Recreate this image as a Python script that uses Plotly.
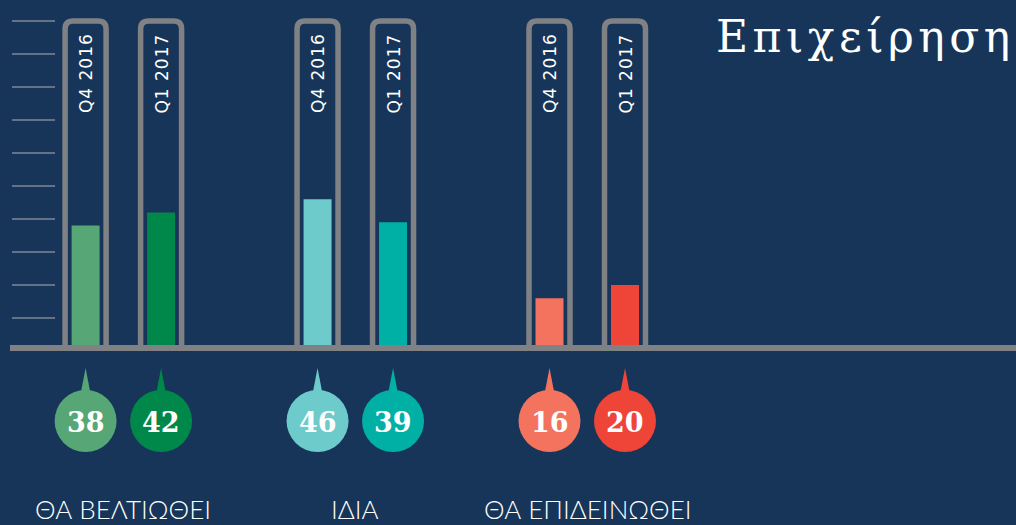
import plotly.graph_objects as go

# ---------------- data ----------------
categories = ["ΘΑ ΒΕΛΤΙΩΘΕΙ", "ΙΔΙΑ", "ΘΑ ΕΠΙΔΕΙΝΩΘΕΙ"]
series_names = ["Q4 2016", "Q1 2017"]
q4_2016 = [38, 46, 16]
q1_2017 = [42, 39, 20]
tick_values = [10, 20, 30, 40, 50, 60, 70, 80, 90, 100]
title_text = "Επιχείρηση"

# ---------------- styles ----------------
BG = "#163558"
TUBE = "#808184"
colors_q4 = ["#56a676", "#6ecbcb", "#f4735f"]
colors_q1 = ["#00874a", "#00b0a5", "#ef4438"]

W, H = 1016, 525
PX_X = 231.95          # pixels per category unit
X0_PX = 123.35         # pixel of first category centre
PX_Y = 3.3             # pixels per value unit
BASE_PX = 351          # pixel row of value 0

def dx(px):
    return px / PX_X

def dy(px):
    return px / PX_Y

def row(py):
    return (BASE_PX - py) / PX_Y

x_range = [-X0_PX / PX_X, (W - X0_PX) / PX_X]
y_range = [row(H), row(0)]

OFF = dx(37.75)        # offset of each bar from category centre
BAR_W = dx(28)
series = [(series_names[0], q4_2016, colors_q4, -OFF),
          (series_names[1], q1_2017, colors_q1, OFF)]

idx = list(range(len(categories)))

fig = go.Figure()
shapes = []
annotations = []

tube_top = tick_values[-1]
half = dx(20.5)
rx, ry = dx(8), dy(8)
circle_y = row(421)
tip_y = row(368)
base_y = row(394)

for name, vals, cols, off in series:
    fig.add_trace(go.Bar(
        x=idx, y=vals, name=name, width=BAR_W, offset=off - BAR_W / 2,
        marker=dict(color=cols, line=dict(width=0)), hoverinfo="skip",
    ))
    xs = [i + off for i in idx]
    fig.add_trace(go.Scatter(
        x=xs, y=[circle_y] * len(xs), mode="markers",
        marker=dict(size=62, color=cols, line=dict(width=0)),
        hoverinfo="skip", cliponaxis=False,
    ))
    for x, c, v in zip(xs, cols, vals):
        x0, x1 = x - half, x + half
        path = (f"M {x0},0 L {x0},{tube_top - ry} Q {x0},{tube_top} {x0 + rx},{tube_top} "
                f"L {x1 - rx},{tube_top} Q {x1},{tube_top} {x1},{tube_top - ry} L {x1},0")
        shapes.append(dict(type="path", path=path, xref="x", yref="y",
                           line=dict(color=TUBE, width=5.5), layer="below"))
        shapes.append(dict(type="path", xref="x", yref="y",
                           path=f"M {x - dx(5)},{base_y} L {x},{tip_y} L {x + dx(5)},{base_y} Z",
                           fillcolor=c, line=dict(width=0), layer="below"))
        annotations.append(dict(
            x=x, y=row(73.5), xref="x", yref="y", showarrow=False,
            textangle=-90,
            text=f"<span style='letter-spacing:1px'>{name}</span>",
            font=dict(family="DejaVu Sans", size=17, color="white"),
        ))
        annotations.append(dict(
            x=x, y=row(422), xref="x", yref="y", showarrow=False,
            text=str(v),
            font=dict(family="DejaVu Serif", size=27, color="white", weight="bold"),
        ))

# tick marks on left
for t in tick_values:
    shapes.append(dict(type="line", xref="paper", yref="y",
                       x0=12 / W, x1=55 / W, y0=t, y1=t,
                       line=dict(color="#7c8797", width=1.5), layer="below"))

# baseline band
shapes.append(dict(type="rect", xref="paper", yref="y", x0=10 / W, x1=1,
                   y0=0, y1=dy(6), fillcolor=TUBE, line=dict(width=0), layer="above"))

# category labels
for i, cat in zip(idx, categories):
    annotations.append(dict(
        x=i, y=row(509), xref="x", yref="y", showarrow=False,
        text=cat, font=dict(family="Lato", size=26, color="white", weight=300),
    ))

# title
annotations.append(dict(
    x=714 / W, y=1 - 36 / H, xref="paper", yref="paper", xanchor="left",
    yanchor="middle", showarrow=False,
    text=f"<span style='letter-spacing:4.5px'>{title_text}</span>",
    font=dict(family="DejaVu Serif", size=44, color="white", weight=200),
))

fig.update_layout(
    width=W, height=H, margin=dict(l=0, r=0, t=0, b=0),
    paper_bgcolor=BG, plot_bgcolor=BG, showlegend=False, barmode="overlay",
    xaxis=dict(visible=False, range=x_range, fixedrange=True),
    yaxis=dict(visible=False, range=y_range, fixedrange=True),
    shapes=shapes, annotations=annotations,
)

fig.write_html(
    "out.html",
    config={"displayModeBar": False},
    post_script="document.body.style.margin='0';document.body.style.padding='0';"
                "document.body.style.overflow='hidden';",
)
